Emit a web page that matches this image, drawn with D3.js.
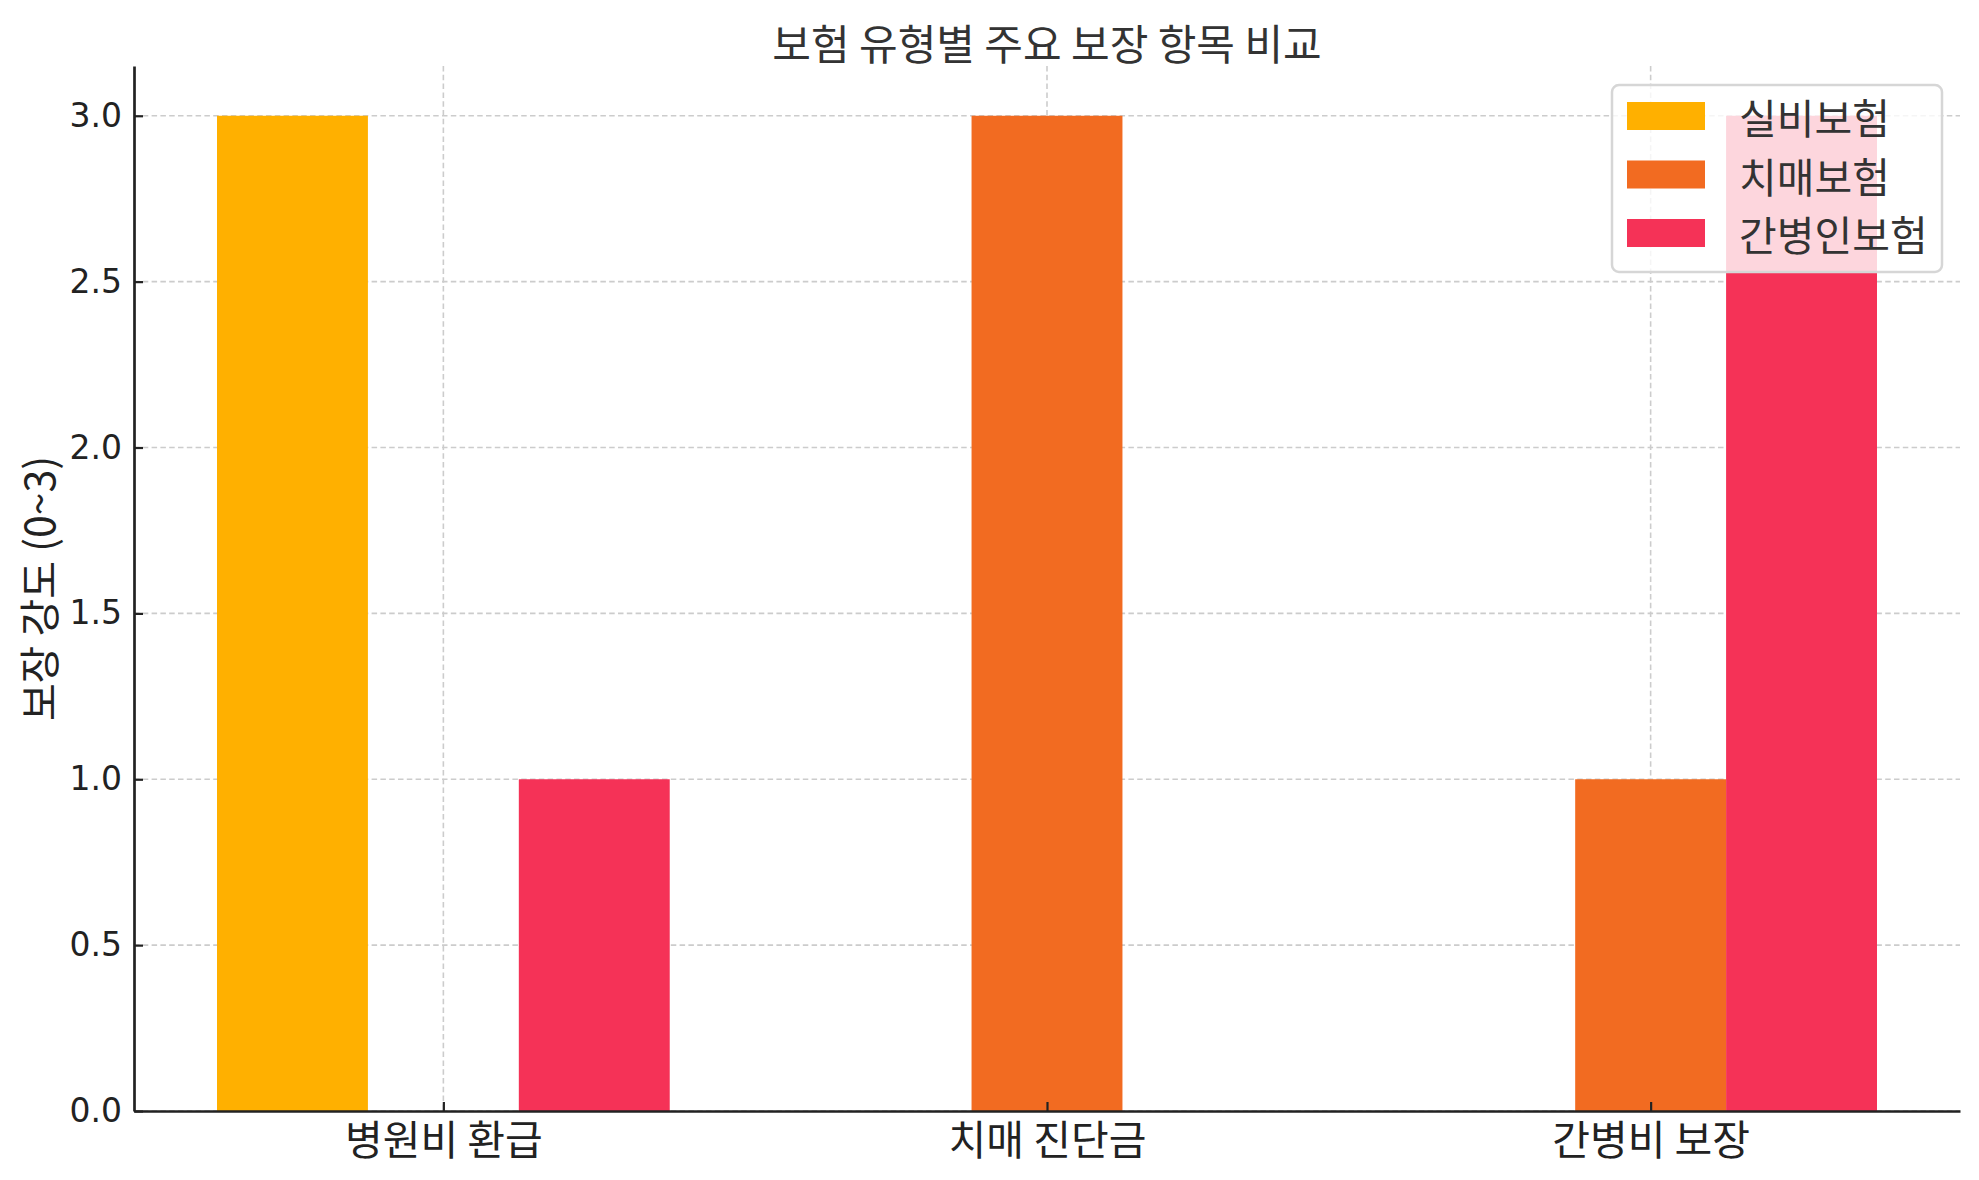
<!DOCTYPE html>
<html>
<head>
<meta charset="utf-8">
<script src="https://cdn.jsdelivr.net/npm/d3@7"></script>
<style>
  html, body { margin: 0; padding: 0; background: #fff; }
  svg { display: block; }
  text { font-family: "DejaVu Sans", "Noto Sans CJK KR", sans-serif; }
</style>
</head>
<body>
<script>
// ---- data ----
const categories = ["병원비 환급", "치매 진단금", "간병비 보장"];
const seriesNames = ["실비보험", "치매보험", "간병인보험"];
const silbi = [3, 0, 0];
const chimae = [0, 3, 1];
const ganbyeong = [1, 0, 3];
const seriesColors = ["#FFB000", "#F26B21", "#F53257"];
const yTicks = [0, 0.5, 1.0, 1.5, 2.0, 2.5, 3.0];
const titleText = "보험 유형별 주요 보장 항목 비교";
const yLabelText = "보장 강도 (0~3)";

const seriesValues = [silbi, chimae, ganbyeong];

const W = 1979, H = 1180;
const margin = { left: 134, right: 19, top: 66, bottom: 69 };
const iw = W - margin.left - margin.right;
const ih = H - margin.top - margin.bottom;
const barW = 0.25;
const korean = "'Noto Sans CJK KR'";

const svg = d3.select("body").append("svg").attr("width", W).attr("height", H);
const g = svg.append("g").attr("transform", `translate(${margin.left},${margin.top})`);

const x = d3.scaleLinear().domain([-0.5125, 2.5125]).range([0, iw]);
const y = d3.scaleLinear().domain([0, 3.15]).range([ih, 0]);

// grid
const gridColor = "#cccccc";
g.append("g").selectAll("line").data(yTicks).join("line")
  .attr("x1", 0).attr("x2", iw)
  .attr("y1", d => y(d)).attr("y2", d => y(d))
  .attr("stroke", gridColor).attr("stroke-width", 1.6).attr("stroke-dasharray", "5.5,3.3");
g.append("g").selectAll("line").data(categories).join("line")
  .attr("x1", (d, i) => x(i)).attr("x2", (d, i) => x(i))
  .attr("y1", 0).attr("y2", ih)
  .attr("stroke", gridColor).attr("stroke-width", 1.6).attr("stroke-dasharray", "5.5,3.3");

// bars
seriesValues.forEach((vals, s) => {
  const off = (s - 1) * barW;
  g.append("g").selectAll("rect").data(vals).join("rect")
    .attr("x", (d, i) => x(i + off - barW / 2))
    .attr("width", x(barW) - x(0))
    .attr("y", d => y(d))
    .attr("height", d => y(0) - y(d))
    .attr("fill", seriesColors[s]);
});

// axes
const yAxis = d3.axisLeft(y).tickValues(yTicks).tickFormat(d3.format(".1f"))
  .tickSizeInner(-9).tickSizeOuter(0).tickPadding(12);
const ya = g.append("g").call(yAxis);
ya.select(".domain").attr("stroke", "#222").attr("stroke-width", 2.7);
ya.selectAll(".tick line").attr("stroke", "#222").attr("stroke-width", 2.2);
ya.selectAll(".tick text").attr("font-size", 33).attr("fill", "#222")
  .style("font-family", "'DejaVu Sans'");

const xAxis = d3.axisBottom(x).tickValues(d3.range(categories.length))
  .tickFormat(i => categories[i]).tickSizeInner(-9).tickSizeOuter(0).tickPadding(15);
const xa = g.append("g").attr("transform", `translate(0,${ih})`).call(xAxis);
xa.select(".domain").attr("stroke", "#222").attr("stroke-width", 2.7);
xa.selectAll(".tick line").attr("stroke", "#222").attr("stroke-width", 2.2);
xa.selectAll(".tick text").attr("font-size", 41).attr("fill", "#222")
  .style("font-family", korean);

// title
svg.append("text").attr("x", margin.left + iw / 2).attr("y", 41)
  .attr("text-anchor", "middle").attr("dominant-baseline", "central")
  .attr("font-size", 42).attr("fill", "#333")
  .style("font-family", korean)
  .text(titleText);

// y label
svg.append("text")
  .attr("transform", `translate(37,${margin.top + ih / 2}) rotate(-90)`)
  .attr("text-anchor", "middle").attr("dominant-baseline", "central")
  .attr("font-size", 41).attr("fill", "#222")
  .style("font-family", korean)
  .text(yLabelText);

// legend
const lg = svg.append("g");
lg.append("rect").attr("x", 1612).attr("y", 85).attr("width", 330).attr("height", 187)
  .attr("rx", 7).attr("fill", "#fff").attr("fill-opacity", 0.8)
  .attr("stroke", "#d6d6d6").attr("stroke-width", 2.5);
const rows = lg.selectAll("g.row").data(seriesNames).join("g")
  .attr("transform", (d, i) => `translate(1627,${102 + i * 58.5})`);
rows.append("rect").attr("width", 78).attr("height", 28)
  .attr("fill", (d, i) => seriesColors[i]);
rows.append("text").attr("x", 112).attr("y", 14)
  .attr("dominant-baseline", "central").attr("font-size", 41).attr("fill", "#333")
  .style("font-family", korean)
  .text(d => d);
</script>
</body>
</html>
